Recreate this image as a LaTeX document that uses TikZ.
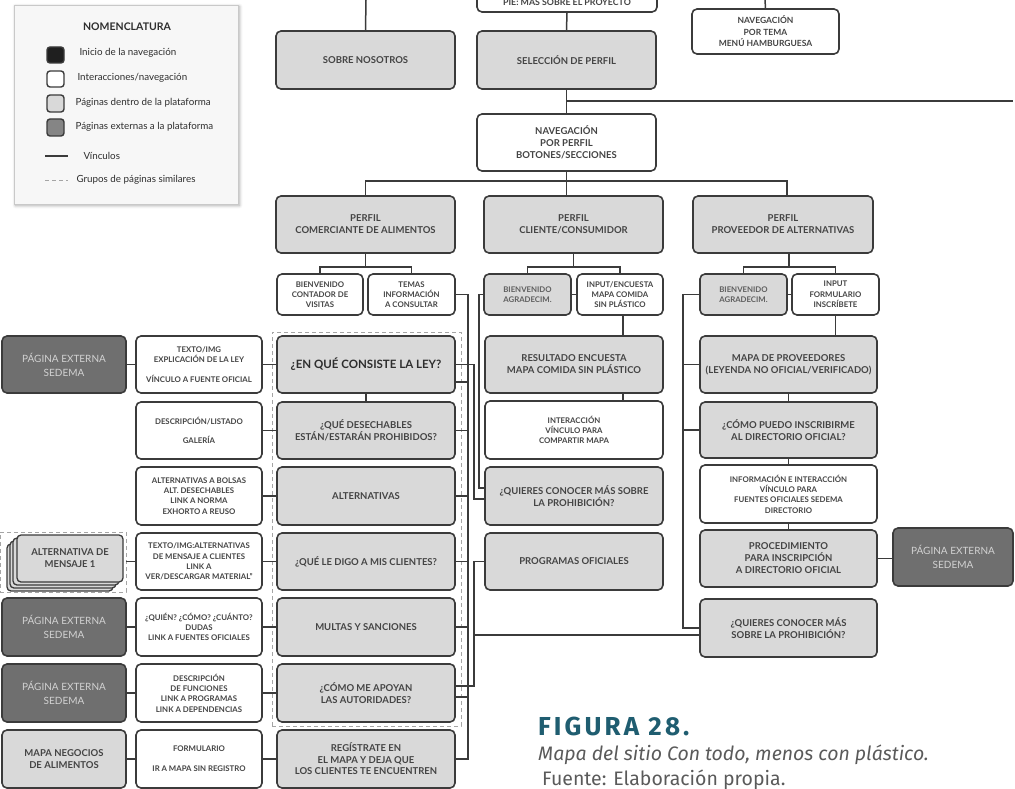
\documentclass[tikz,border=0pt]{standalone}
\usepackage{fontspec}
\setmainfont{Lato}
\newfontfamily\capfont{Fira Sans}
\usetikzlibrary{shadows.blur}

\definecolor{ink}{HTML}{3B3B3B}
\definecolor{txt}{HTML}{444444}
\definecolor{strongtxt}{HTML}{2E2E2E}
\definecolor{softtxt}{HTML}{5E5E5E}
\definecolor{pagefill}{HTML}{D9D9D9}
\definecolor{extfill}{HTML}{6F6F6F}
\definecolor{exttxt}{HTML}{D2D2D2}
\definecolor{grouplin}{HTML}{A5A5A5}
\definecolor{legbg}{HTML}{F7F7F7}
\definecolor{legline}{HTML}{C9C9C9}
\definecolor{figteal}{HTML}{1F5D70}
\definecolor{capgray}{HTML}{5A5A5A}

\tikzset{
  pg/.style={draw=ink, line width=1.6pt, rounded corners=5pt, inner sep=1pt,
    align=center, text=txt, font=\bfseries\fontsize{9.5}{12}\selectfont},
  pagebox/.style={pg, fill=pagefill},
  navbox/.style={pg, fill=white},
  extbox/.style={pg, fill=extfill, text=exttxt, font=\fontsize{10}{14}\selectfont},
  cardbox/.style={pg, fill=pagefill, line width=1.3pt, rounded corners=4pt},
  smalltxt/.style={font=\bfseries\fontsize{7.8}{10.3}\selectfont},
  wire/.style={draw=ink, line width=1.5pt},
  grpbox/.style={draw=grouplin, line width=0.8pt, dash pattern=on 4pt off 3pt},
  legbox/.style={fill=legbg, draw=legline, line width=0.6pt,
    blur shadow={shadow xshift=1.5pt, shadow yshift=-1.5pt, shadow blur radius=3pt, shadow opacity=35}},
  legsq/.style={draw=ink, line width=1.4pt, rounded corners=3pt},
  legtxt/.style={anchor=west, text=strongtxt, font=\fontsize{9.8}{11}\selectfont},
}

% box from its corners: style, name, x1, y1, x2, y2, label
\newcommand{\boxat}[7]{%
  \pgfmathsetmacro{\bxw}{#5-#3}%
  \pgfmathsetmacro{\bxh}{#6-#4}%
  \pgfmathsetmacro{\bxx}{(#3+#5)/2}%
  \pgfmathsetmacro{\bxy}{(#4+#6)/2}%
  \node[#1, minimum width=\bxw pt, minimum height=\bxh pt] (#2) at (\bxx,\bxy) {#7};}

\begin{document}
\begin{tikzpicture}[x=1pt,y=-1pt]
\useasboundingbox (0,0) rectangle (1015,789);
\clip (0,0) rectangle (1015,789);

% ---------- legend ----------
\boxat{legbox}{legend}{14}{5}{238}{204}{}
\node[text=strongtxt, font=\bfseries\fontsize{10.5}{12}\selectfont] (legTitle) at (127,27) {NOMENCLATURA};
\boxat{legsq, fill=black!88}{lgA}{47}{47}{64}{63}{}
\boxat{legsq, fill=white}{lgB}{47}{71}{64}{87}{}
\boxat{legsq, fill=pagefill}{lgC}{47}{95}{64}{112}{}
\boxat{legsq, fill=black!48}{lgD}{47}{119}{64}{136}{}
\node[legtxt] (ltA) at (76,53) {Inicio de la navegación};
\node[legtxt] (ltB) at (74,78) {Interacciones/navegación};
\node[legtxt] (ltC) at (72,103) {Páginas dentro de la plataforma};
\node[legtxt] (ltD) at (72,127) {Páginas externas a la plataforma};
\coordinate (lvA) at (45,156); \coordinate (lvB) at (68,156);
\draw[wire, line width=1.3pt] (lvA) -- (lvB);
\node[legtxt] (ltE) at (80,156) {Vínculos};
\coordinate (lgA1) at (45,180); \coordinate (lgB1) at (68,180);
\draw[grpbox] (lgA1) -- (lgB1);
\node[legtxt] (ltF) at (73,180) {Grupos de páginas similares};

% ---------- upper levels ----------
\boxat{navbox, font=\bfseries\fontsize{8.8}{10}\selectfont}{pie}{477}{-9}{657}{12}{PIE: MÁS SOBRE EL PROYECTO}
\boxat{pagebox}{sobre}{276}{31}{455}{89}{SOBRE NOSOTROS}
\boxat{pagebox}{seleccion}{477}{31}{656}{89}{SELECCIÓN DE PERFIL}
\boxat{navbox, font=\bfseries\fontsize{8.5}{11.5}\selectfont}{hamb}{692}{9}{839}{54}{NAVEGACIÓN\\POR TEMA\\MENÚ HAMBURGUESA}
\boxat{navbox}{navperfil}{477}{114}{656}{171}{NAVEGACIÓN\\POR PERFIL\\BOTONES/SECCIONES}

\boxat{pagebox}{perfilC}{276}{196}{455}{253}{PERFIL\\COMERCIANTE DE ALIMENTOS}
\boxat{pagebox}{perfilCl}{484}{196}{663}{253}{PERFIL\\CLIENTE/CONSUMIDOR}
\boxat{pagebox}{perfilP}{693}{196}{873}{253}{PERFIL\\PROVEEDOR DE ALTERNATIVAS}

\boxat{navbox, smalltxt}{bienC}{277}{274}{363}{315}{BIENVENIDO\\CONTADOR DE\\VISITAS}
\boxat{navbox, smalltxt}{temasC}{368}{274}{455}{315}{TEMAS\\INFORMACIÓN\\A CONSULTAR}
\boxat{pagebox, smalltxt, text=softtxt}{bienCl}{484}{274}{571}{315}{BIENVENIDO\\AGRADECIM.}
\boxat{navbox, smalltxt}{inputCl}{577}{274}{663}{315}{INPUT/ENCUESTA\\MAPA COMIDA\\SIN PLÁSTICO}
\boxat{pagebox, smalltxt, text=softtxt}{bienP}{700}{274}{787}{315}{BIENVENIDO\\AGRADECIM.}
\boxat{navbox, smalltxt}{inputP}{792}{274}{879}{315}{INPUT\\FORMULARIO\\INSCRÍBETE}

% ---------- merchant profile ----------
\boxat{grpbox}{grpC}{272}{332}{461}{726}{}
\boxat{grpbox}{grpS}{0}{532}{126}{592}{}

\boxat{extbox}{ext0}{2}{336}{126}{393}{PÁGINA EXTERNA\\SEDEMA}
\boxat{navbox, smalltxt}{white0}{136}{336}{262}{393}{TEXTO/IMG\\EXPLICACIÓN DE LA LEY\\[10pt]VÍNCULO A FUENTE OFICIAL}
\boxat{pagebox, text=strongtxt, font=\bfseries\fontsize{11.5}{13}\selectfont}{main0}{277}{336}{455}{393}{¿EN QUÉ CONSISTE LA LEY?}

\boxat{navbox, smalltxt}{white1}{136}{402}{262}{459}{DESCRIPCIÓN/LISTADO\\[9pt]GALERÍA}
\boxat{pagebox}{main1}{277}{402}{455}{459}{¿QUÉ DESECHABLES\\ESTÁN/ESTARÁN PROHIBIDOS?}

\boxat{navbox, smalltxt}{white2}{136}{467}{262}{525}{ALTERNATIVAS A BOLSAS\\ALT. DESECHABLES\\LINK A NORMA\\EXHORTO A REUSO}
\boxat{pagebox}{main2}{277}{467}{455}{525}{ALTERNATIVAS}

\boxat{cardbox}{cardC}{7}{544}{113}{591}{}
\boxat{cardbox}{cardB}{10}{541}{116}{588}{}
\boxat{cardbox}{cardA}{13}{538}{119}{585}{}
\boxat{cardbox}{alt}{17}{535}{123}{582}{ALTERNATIVA DE\\MENSAJE 1}
\boxat{navbox, smalltxt}{white3}{136}{533}{262}{590}{TEXTO/IMG:ALTERNATIVAS\\DE MENSAJE A CLIENTES\\LINK A\\VER/DESCARGAR MATERIAL”}
\boxat{pagebox}{main3}{277}{533}{455}{590}{¿QUÉ LE DIGO A MIS CLIENTES?}

\boxat{extbox}{ext4}{2}{598}{126}{656}{PÁGINA EXTERNA\\SEDEMA}
\boxat{navbox, smalltxt}{white4}{136}{598}{262}{656}{¿QUIÉN? ¿CÓMO? ¿CUÁNTO?\\DUDAS\\LINK A FUENTES OFICIALES}
\boxat{pagebox}{main4}{277}{598}{455}{656}{MULTAS Y SANCIONES}

\boxat{extbox}{ext5}{2}{664}{126}{722}{PÁGINA EXTERNA\\SEDEMA}
\boxat{navbox, smalltxt}{white5}{136}{664}{262}{722}{DESCRIPCIÓN\\DE FUNCIONES\\LINK A PROGRAMAS\\LINK A DEPENDENCIAS}
\boxat{pagebox}{main5}{277}{664}{455}{722}{¿CÓMO ME APOYAN\\LAS AUTORIDADES?}

\boxat{pagebox}{ext6}{2}{730}{126}{788}{MAPA NEGOCIOS\\DE ALIMENTOS}
\boxat{navbox, smalltxt}{white6}{136}{730}{262}{788}{FORMULARIO\\[10pt]IR A MAPA SIN REGISTRO}
\boxat{pagebox, font=\bfseries\fontsize{9.5}{11.5}\selectfont}{main6}{277}{730}{455}{788}{REGÍSTRATE EN\\EL MAPA Y DEJA QUE\\LOS CLIENTES TE ENCUENTREN}

% ---------- customer profile ----------
\boxat{pagebox}{resultado}{485}{336}{663}{393}{RESULTADO ENCUESTA\\MAPA COMIDA SIN PLÁSTICO}
\boxat{navbox, smalltxt}{interaccion}{485}{401}{663}{459}{INTERACCIÓN\\VÍNCULO PARA\\COMPARTIR MAPA}
\boxat{pagebox}{quieresCl}{485}{467}{663}{525}{¿QUIERES CONOCER MÁS SOBRE\\LA PROHIBICIÓN?}
\boxat{pagebox}{programas}{485}{533}{663}{590}{PROGRAMAS OFICIALES}

% ---------- supplier profile ----------
\boxat{pagebox}{mapaP}{700}{336}{877}{393}{MAPA DE PROVEEDORES\\(LEYENDA NO OFICIAL/VERIFICADO)}
\boxat{pagebox}{comoP}{700}{402}{877}{458}{¿CÓMO PUEDO INSCRIBIRME\\AL DIRECTORIO OFICIAL?}
\boxat{navbox, smalltxt}{infoP}{700}{465}{877}{523}{INFORMACIÓN E INTERACCIÓN\\VÍNCULO PARA\\FUENTES OFICIALES SEDEMA\\DIRECTORIO}
\boxat{pagebox}{procP}{700}{530}{877}{587}{PROCEDIMIENTO\\PARA INSCRIPCIÓN\\A DIRECTORIO OFICIAL}
\boxat{pagebox}{quieresP}{700}{599}{877}{657}{¿QUIERES CONOCER MÁS\\SOBRE LA PROHIBICIÓN?}
\boxat{extbox}{extP}{893}{528}{1013}{586}{PÁGINA EXTERNA\\SEDEMA}

% ---------- connectors: top ----------
\coordinate (topL) at (366,0);
\coordinate (topR) at (765,0);
\coordinate (sideR) at (1013,101);
\draw[wire] (topL) -- (sobre.north);
\draw[wire] (topR) -- (hamb.north);
\draw[wire] (pie.south) -- (seleccion.north);
\draw[wire] (seleccion.south) -- (navperfil.north);
\draw[wire] (seleccion.south |- sideR) -- (sideR);

\coordinate (tr1) at (0,181);
\coordinate (tr2) at (0,267);
\coordinate (pTop) at ([xshift=4pt]perfilP.north);
\coordinate (pBot) at ([xshift=6pt]perfilP.south);
\draw[wire] (navperfil.south) -- (navperfil.south |- perfilCl.north);
\draw[wire] (perfilC.north) |- (pTop |- tr1) -- (pTop);

\draw[wire] (perfilC.south) -- (perfilC.south |- tr2);
\draw[wire] (bienC.north) |- (temasC.north |- tr2) -- (temasC.north);
\draw[wire] (perfilCl.south) -- (perfilCl.south |- tr2);
\draw[wire] (bienCl.north) |- (inputCl.north |- tr2) -- (inputCl.north);
\draw[wire] (pBot) -- (pBot |- tr2);
\draw[wire] (bienP.north) |- (inputP.north |- tr2) -- (inputP.north);
\draw[wire] (bienCl.east) -- (inputCl.west);
\draw[wire] (bienP.east) -- (inputP.west);

% ---------- connectors: customer and supplier columns ----------
\coordinate (clX) at ([xshift=3pt]inputCl.south);
\draw[wire] (clX) -- (clX |- resultado.north);
\draw[wire] (clX |- resultado.south) -- (clX |- interaccion.north);
\draw[wire] (inputP.south) -- (inputP.south |- mapaP.north);
\draw[wire] (mapaP) -- (comoP);
\draw[wire] (comoP) -- (infoP);
\draw[wire] (infoP) -- (procP);
\draw[wire] (procP.east) -- (extP.west |- procP.east);

\coordinate (busV) at (683,0);
\draw[wire] (bienP.west) -| (busV |- quieresP.west) -- (quieresP.west);
\draw[wire] (mapaP.west) -- (mapaP.west -| busV);
\draw[wire] (comoP.west) -- (comoP.west -| busV);

% ---------- connectors: merchant column ----------
\draw[wire] (main0) -- (main1);
\foreach \r in {0,...,6} { \draw[wire] (white\r.east) -- (main\r.west); }
\foreach \r in {0,4,5,6} { \draw[wire] (ext\r.east) -- (white\r.west); }
\draw[wire] (white3.west) -- (white3.west -| grpS.east);

% bus from the topics box to every merchant page
\coordinate (busT) at (468,0);
\coordinate (r0low) at ([yshift=-17.5pt]main0.east);
\coordinate (r5low) at ([yshift=-4pt]main5.east);
\coordinate (r5up) at ([yshift=7pt]main5.east);
\draw[wire] (temasC.east) -| (busT |- main6.east) -- (main6.east);
\draw[wire] (r0low) -- (r0low -| busT);
\foreach \r in {1,...,4} { \draw[wire] (main\r.east) -- (main\r.east -| busT); }
\draw[wire] (r5low) -- (r5low -| busT);

% links between the three profiles
\coordinate (busP) at (474,0);
\coordinate (busB) at (479,0);
\coordinate (qClUp) at ([yshift=8pt]quieresCl.west);
\coordinate (qClLow) at ([yshift=-3pt]quieresCl.west);
\coordinate (qPLow) at ([yshift=-7pt]quieresP.west);
\draw[wire] (main0.east) -| (busP |- qClLow) -- (qClLow);
\draw[wire] (bienCl.west) -| (busB |- qClUp) -- (qClUp);
\draw[wire] (programas.west) -| (busP |- r5up) -- (r5up);
\draw[wire] (busP |- qPLow) -- (qPLow);

% ---------- caption ----------
\node[anchor=base west, inner sep=0pt, text=figteal,
  font=\capfont\bfseries\fontsize{26}{28}\selectfont\addfontfeatures{LetterSpace=12}] (figNum) at (538,735) {FIGURA 28.};
\node[anchor=base west, inner sep=0pt, text=capgray, font=\capfont\itshape\fontsize{19.5}{21}\selectfont] (figTitle) at (538,760) {Mapa del sitio Con todo, menos con plástico.};
\node[anchor=base west, inner sep=0pt, text=capgray, font=\capfont\fontsize{19.5}{21}\selectfont] (figSrc) at (542,785) {Fuente: Elaboración propia.};
\end{tikzpicture}
\end{document}
